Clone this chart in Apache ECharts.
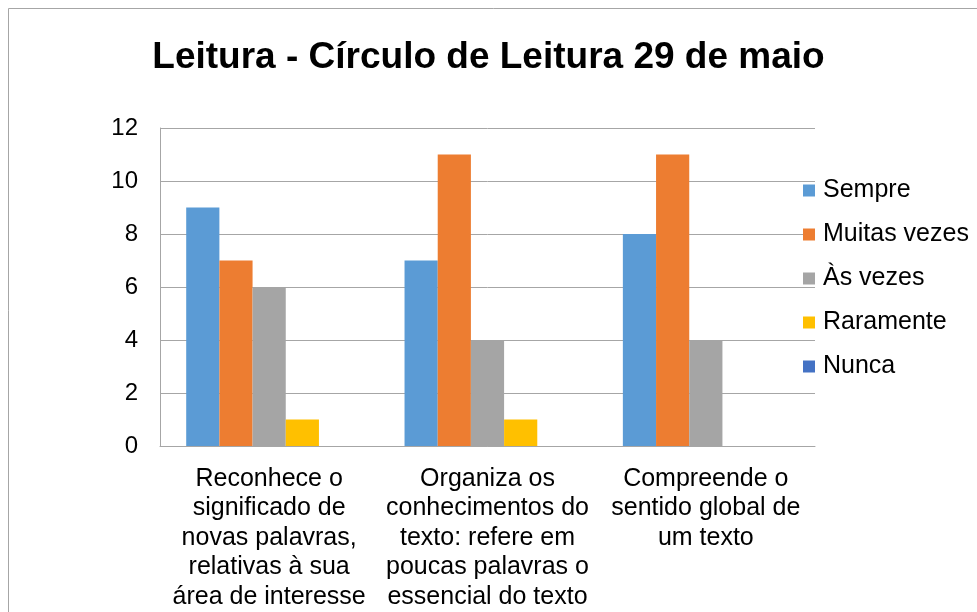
<!DOCTYPE html>
<html>
<head>
<meta charset="utf-8">
<script src="https://cdn.jsdelivr.net/npm/echarts@6/dist/echarts.min.js"></script>
<style>html,body{margin:0;padding:0;background:#fff}#c{width:977px;height:612px}</style>
</head>
<body>
<div id="c"></div>
<script>
const title = 'Leitura - Círculo de Leitura 29 de maio';
const categories = [
  'Reconhece o\nsignificado de\nnovas palavras,\nrelativas à sua\nárea de interesse',
  'Organiza os\nconhecimentos do\ntexto: refere em\npoucas palavras o\nessencial do texto',
  'Compreende o\nsentido global de\num texto'
];
const seriesNames = ['Sempre', 'Muitas vezes', 'Às vezes', 'Raramente', 'Nunca'];
const sempre = [9, 7, 8];
const muitasVezes = [7, 11, 11];
const asVezes = [6, 4, 4];
const raramente = [1, 1, 0];
const nunca = [0, 0, 0];
const colors = ['#5B9BD5', '#ED7D31', '#A5A5A5', '#FFC000', '#4472C4'];
const yTicks = [0, 2, 4, 6, 8, 10, 12];

const values = [sempre, muitasVezes, asVezes, raramente, nunca];
const font = 'Liberation Sans, Arial, sans-serif';
const chart = echarts.init(document.getElementById('c'), null, {renderer: 'canvas'});
chart.setOption({
  animation: false,
  backgroundColor: '#fff',
  color: colors,
  graphic: [{
    type: 'rect', silent: true,
    shape: {x: 8.5, y: 8.5, width: 1100, height: 800},
    style: {fill: 'none', stroke: '#A6A6A6', lineWidth: 1}
  }],
  title: {
    text: title, left: 'center', top: 34,
    textStyle: {fontFamily: font, fontSize: 37, fontWeight: 'bold', color: '#000'}
  },
  legend: {
    orient: 'vertical', left: 803, top: 178, padding: 0,
    itemWidth: 12, itemHeight: 12, itemGap: 19,
    icon: 'rect',
    textStyle: {fontFamily: font, fontSize: 25, color: '#000', lineHeight: 25, padding: [0, 0, 0, 3]},
    data: seriesNames
  },
  grid: {left: 160, top: 128, right: 162, bottom: 166, containLabel: false},
  xAxis: {
    type: 'category', data: categories,
    axisLine: {show: true, lineStyle: {color: '#A6A6A6', width: 1}},
    axisTick: {show: false},
    axisLabel: {fontFamily: font, fontSize: 25, color: '#000', lineHeight: 29.5, margin: 18, interval: 0, align: 'center'}
  },
  yAxis: {
    type: 'value', min: yTicks[0], max: yTicks[yTicks.length - 1], interval: 2,
    axisLine: {show: true, lineStyle: {color: '#A6A6A6', width: 1}},
    axisTick: {show: false},
    splitLine: {show: true, lineStyle: {color: '#A6A6A6', width: 1}},
    axisLabel: {fontFamily: font, fontSize: 24, color: '#000', margin: 22}
  },
  series: seriesNames.map((n, i) => ({
    name: n, type: 'bar', data: values[i],
    barGap: '0%', barCategoryGap: '24%',
    itemStyle: {color: colors[i]}
  }))
});
</script>
</body>
</html>
